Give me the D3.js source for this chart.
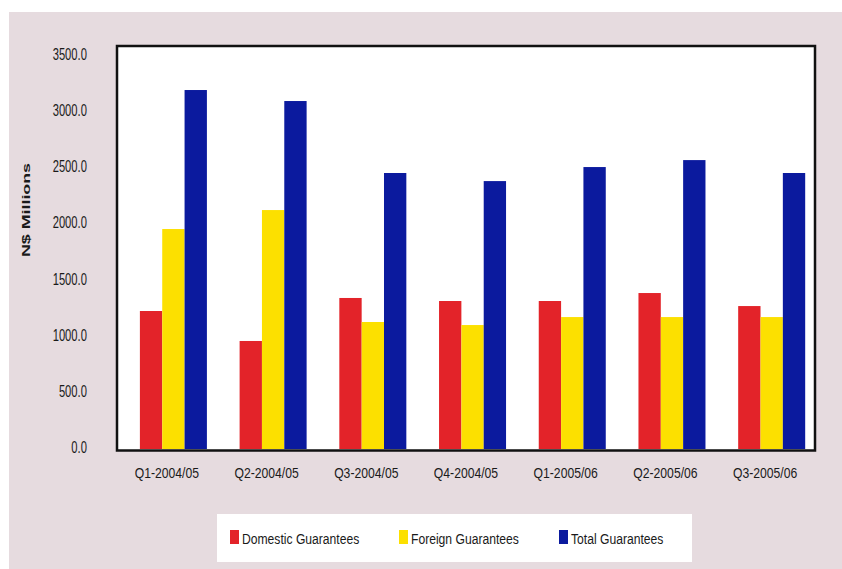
<!DOCTYPE html>
<html>
<head>
<meta charset="utf-8">
<script src="https://cdn.jsdelivr.net/npm/d3@7"></script>
<style>
  html, body { margin: 0; padding: 0; background: #ffffff; }
  svg { display: block; }
  text { font-family: "Liberation Sans", Arial, sans-serif; fill: #1a1a1a; }
</style>
</head>
<body>
<svg id="chart" width="842" height="569"></svg>
<script>
// Government loan guarantees by quarter (N$ millions)
const quarters = ["Q1-2004/05", "Q2-2004/05", "Q3-2004/05", "Q4-2004/05",
                  "Q1-2005/06", "Q2-2005/06", "Q3-2005/06"];
const domestic = [1229, 962, 1345, 1318, 1318, 1389, 1273];
const foreign  = [1959, 2128, 1131, 1104, 1175, 1175, 1175];
const total    = [3197, 3099, 2458, 2386, 2511, 2573, 2458];
const seriesNames = ["Domestic Guarantees", "Foreign Guarantees", "Total Guarantees"];
const seriesColors = ["#e32329", "#fce000", "#0b1a9e"];
const yTicks = [0, 500, 1000, 1500, 2000, 2500, 3000, 3500];
const yTitle = "N$ Millions";

const rows = quarters.map((q, i) => ({ q, values: [domestic[i], foreign[i], total[i]] }));

const svg = d3.select("#chart");

// panel background
svg.append("rect")
  .attr("x", 9).attr("y", 12).attr("width", 833).attr("height", 557)
  .attr("fill", "#e6dbdf");

const plot = { left: 117, right: 815, top: 46, bottom: 449 };

const y = d3.scaleLinear().domain([0, 3500]).range([plot.bottom, 56]);

// category slots (used for labels) and the bar groups within them
const xCat = d3.scaleBand().domain(quarters).range([plot.left, plot.right]).padding(0);
const xGroup = d3.scaleBand().domain(quarters).range([plot.left, plot.right])
  .paddingInner(0.328).paddingOuter(0.164).align(0.7);
const xSeries = d3.scaleBand().domain(d3.range(3)).range([0, xGroup.bandwidth()]).padding(0);

// plot area
svg.append("rect")
  .attr("x", plot.left).attr("y", plot.top)
  .attr("width", plot.right - plot.left).attr("height", plot.bottom + 1.5 - plot.top)
  .attr("fill", "#ffffff");

// bars
const groups = svg.append("g").selectAll("g").data(rows).join("g")
  .attr("transform", d => `translate(${xGroup(d.q)},0)`);
groups.selectAll("rect").data(d => d.values).join("rect")
  .attr("x", (v, i) => xSeries(i))
  .attr("width", xSeries.bandwidth())
  .attr("y", v => y(v))
  .attr("height", v => y(0) - y(v))
  .attr("fill", (v, i) => seriesColors[i]);

// frame
svg.append("rect")
  .attr("x", plot.left).attr("y", plot.top)
  .attr("width", plot.right - plot.left).attr("height", plot.bottom + 1.5 - plot.top)
  .attr("fill", "none").attr("stroke", "#111").attr("stroke-width", 2.5);

// y axis labels
const yAxis = d3.axisLeft(y).tickValues(yTicks).tickFormat(d3.format(".1f")).tickSize(0).tickPadding(0);
const gy = svg.append("g").attr("transform", `translate(${plot.left},0)`).call(yAxis);
gy.select(".domain").remove();
gy.selectAll("text")
  .attr("x", -43).attr("dy", "0.22em")
  .attr("transform", "scale(0.7,1)")
  .style("font-size", "16px").style("font-family", "'Liberation Sans', Arial, sans-serif")
  .attr("fill", "#1a1a1a");

// x axis labels
const xAxis = d3.axisBottom(xCat).tickSize(0).tickPadding(0);
const gx = svg.append("g").attr("transform", `translate(0,${plot.bottom})`).call(xAxis);
gx.select(".domain").remove();
gx.selectAll("text")
  .attr("y", 29).attr("dy", 0)
  .attr("transform", "scale(0.87,1)")
  .style("font-size", "14px").style("font-family", "'Liberation Sans', Arial, sans-serif")
  .attr("fill", "#1a1a1a");

// y title
svg.append("text")
  .attr("transform", "translate(30,210) rotate(-90)")
  .attr("text-anchor", "middle")
  .attr("textLength", 94).attr("lengthAdjust", "spacingAndGlyphs")
  .style("font-size", "11px").style("font-weight", "bold")
  .text(yTitle);

// legend
const legend = svg.append("g");
legend.append("rect")
  .attr("x", 217).attr("y", 514).attr("width", 475).attr("height", 48)
  .attr("fill", "#ffffff");
const legendX = [230, 399, 559];
const items = legend.selectAll("g.item").data(seriesNames).join("g")
  .attr("class", "item")
  .attr("transform", (d, i) => `translate(${legendX[i]},530)`);
items.append("rect")
  .attr("width", 9).attr("height", 14)
  .attr("fill", (d, i) => seriesColors[i]);
items.append("text")
  .attr("x", 12 / 0.81).attr("y", 14)
  .attr("transform", "scale(0.81,1)")
  .style("font-size", "15px")
  .text(d => d);
</script>
</body>
</html>
